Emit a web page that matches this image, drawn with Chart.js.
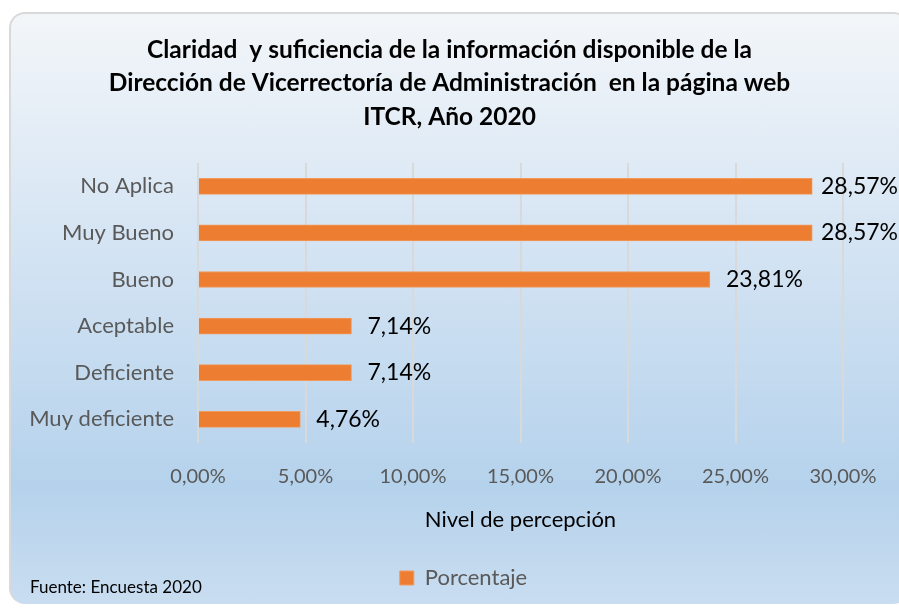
<!DOCTYPE html>
<html>
<head>
<meta charset="utf-8">
<script src="https://cdn.jsdelivr.net/npm/chart.js@4.4.1/dist/chart.umd.min.js"></script>
<style>
    html, body { margin: 0; padding: 0; background: #fff; }
    #wrap { position: relative; width: 899px; height: 610px; overflow: hidden; }
    #box {
        position: absolute; left: 9px; top: 12px; width: 900px; height: 592px;
        border-radius: 16px;
        border-left: 2px solid #d9d9d9; border-top: 2px solid #d9d9d9;
        box-sizing: border-box;
        background: linear-gradient(to bottom, #f3f6f9 0%, #dde9f5 28%, #b5d2ec 80%, #c9ddf0 100%);
    }
    #chart { position: absolute; left: 0; top: 0; }
    #fuente {
        position: absolute; left: 30px; top: 576px;
        font-family: Lato, sans-serif; font-size: 17px; color: #000;
    }
</style>
</head>
<body>
<div id="wrap">
    <div id="box"></div>
    <canvas id="chart" width="899" height="610"></canvas>
    <div id="fuente">Fuente: Encuesta 2020</div>
</div>
<script>
// --- Data ---
const categories = ['No Aplica', 'Muy Bueno', 'Bueno', 'Aceptable', 'Deficiente', 'Muy deficiente'];
const porcentaje = [28.57, 28.57, 23.81, 7.14, 7.14, 4.76];
const xTicks = [0, 5, 10, 15, 20, 25, 30];
const titleLines = [
    'Claridad  y suficiencia de la información disponible de la',
    'Dirección de Vicerrectoría de Administración  en la página web',
    'ITCR, Año 2020'
];

const fmt = v => v.toFixed(2).replace('.', ',') + '%';

// value labels at the end of each bar, centred title, legend nudge
const extras = {
    id: 'extras',
    afterLayout(chart) {
        // legend sits a bit right of the canvas centre in the original
        chart.legend.left += 42;
        chart.legend.right += 42;
    },
    afterDatasetsDraw(chart) {
        const ctx = chart.ctx;
        ctx.save();
        ctx.font = '23px Lato';
        ctx.fillStyle = '#000';
        ctx.textBaseline = 'middle';
        ctx.textAlign = 'left';
        chart.getDatasetMeta(0).data.forEach((bar, i) => {
            const txt = fmt(porcentaje[i]);
            const w = ctx.measureText(txt).width;
            // keep labels inside the canvas, like Excel does
            const x = Math.min(bar.x + 16, chart.width - w - 1);
            ctx.fillText(txt, x, bar.y);
        });
        ctx.restore();
    },
    afterDraw(chart) {
        const ctx = chart.ctx;
        ctx.save();
        ctx.font = 'bold 24.5px Lato';
        ctx.fillStyle = '#000';
        ctx.textAlign = 'center';
        ctx.textBaseline = 'middle';
        titleLines.forEach((t, i) => ctx.fillText(t, chart.width / 2, 50 + i * 33.5));
        ctx.restore();
    }
};

new Chart(document.getElementById('chart'), {
    type: 'bar',
    data: {
        labels: categories,
        datasets: [{
            label: 'Porcentaje',
            data: porcentaje,
            backgroundColor: '#ED7D31',
            borderColor: '#F19A5C',
            borderWidth: 1,
            barThickness: 16
        }]
    },
    plugins: [extras],
    options: {
        indexAxis: 'y',
        responsive: false,
        animation: false,
        layout: { padding: { left: 0, right: 56, top: 163, bottom: 11 } },
        plugins: {
            title: { display: false },
            legend: {
                position: 'bottom',
                labels: {
                    color: '#595959',
                    font: { family: 'Lato', size: 22 },
                    boxWidth: 14,
                    boxHeight: 14,
                    padding: 10
                }
            },
            tooltip: { enabled: false }
        },
        scales: {
            x: {
                min: 0,
                max: 30,
                afterBuildTicks: s => { s.ticks = xTicks.map(v => ({ value: v })); },
                ticks: {
                    color: '#595959',
                    font: { family: 'Lato', size: 20 },
                    padding: 22,
                    callback: v => fmt(v)
                },
                grid: { color: '#d9d9d9', lineWidth: 2, drawTicks: false },
                border: { display: false },
                title: {
                    display: true,
                    text: 'Nivel de percepción',
                    color: '#000',
                    font: { family: 'Lato', size: 22 },
                    padding: { top: -4, bottom: 24 }
                }
            },
            y: {
                afterFit: s => { s.width = 198; },
                ticks: {
                    color: '#595959',
                    font: { family: 'Lato', size: 22 },
                    padding: 24
                },
                grid: { display: false, drawTicks: false },
                border: { display: false }
            }
        }
    }
});
</script>
</body>
</html>
